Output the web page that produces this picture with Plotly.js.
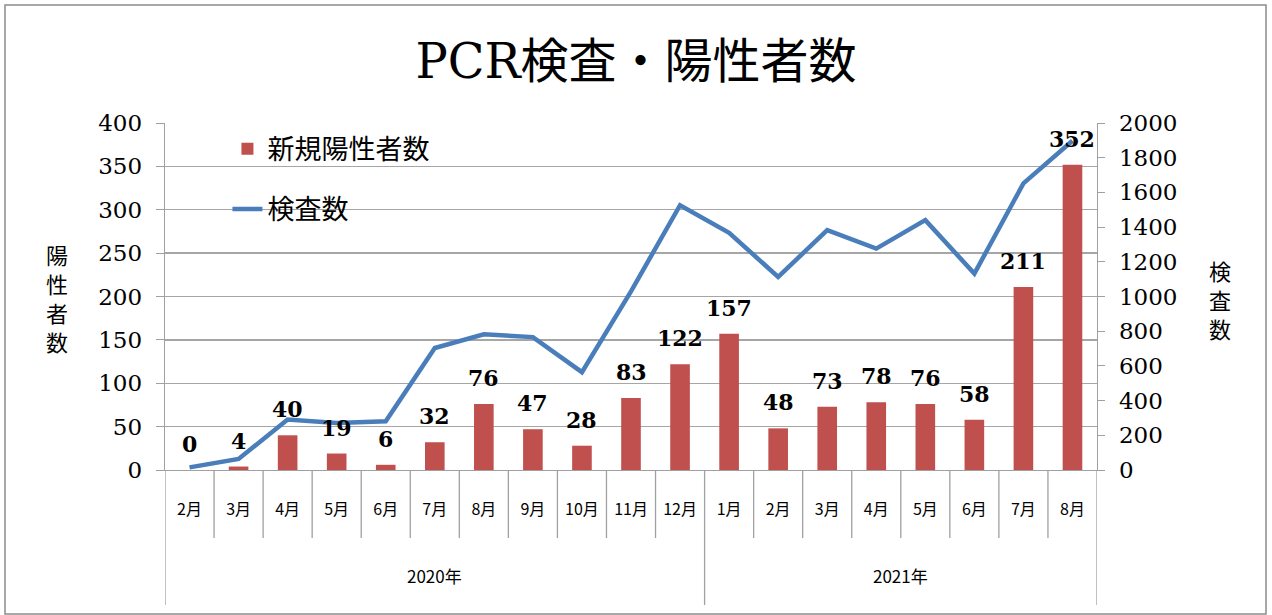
<!DOCTYPE html>
<html>
<head>
<meta charset="utf-8">
<script src="https://cdn.plot.ly/plotly-3.0.1.min.js"></script>
<style>html,body{margin:0;padding:0;background:#fff}#chart{width:1272px;height:615px}</style>
</head>
<body>
<div id="chart"></div>
<script>
const months = ["2月","3月","4月","5月","6月","7月","8月","9月","10月","11月","12月","1月","2月","3月","4月","5月","6月","7月","8月"];
const years = ["2020年","2020年","2020年","2020年","2020年","2020年","2020年","2020年","2020年","2020年","2020年","2021年","2021年","2021年","2021年","2021年","2021年","2021年","2021年"];
const positives = [0,4,40,19,6,32,76,47,28,83,122,157,48,73,78,76,58,211,352];
const tests = [15,64,291,271,281,703,782,766,564,1030,1526,1367,1113,1382,1276,1440,1132,1652,1898];
const leftTicks = [0,50,100,150,200,250,300,350,400];
const rightTicks = [0,200,400,600,800,1000,1200,1400,1600,1800,2000];
const leftTitle = "陽性者数";
const rightTitle = "検査数";

const serif = "'DejaVu Serif', 'Noto Sans CJK JP', serif";
const cjk = "'Noto Sans CJK JP', 'DejaVu Serif', sans-serif";
const idx = months.map((m,i)=>i);

const bars = {
  type:'bar', x: idx, y: positives, name:'新規陽性者数',
  marker:{color:'#C0504D'}, width:0.4,
  legendgroup:'a', hoverinfo:'skip'
};
const line = {
  type:'scatter', mode:'lines', x: idx, y: tests, yaxis:'y2', name:'検査数',
  line:{color:'#4A7EBB', width:4.5}, legendgroup:'b', hoverinfo:'skip'
};

const shapes = [];
const annotations = [];
positives.forEach((v,i)=>{
  annotations.push({xref:'x', yref:'y', x:i, y:v, text:String(v), showarrow:false, yshift:26,
    xanchor:'center', yanchor:'middle', font:{family:serif, size:22, color:'#000', weight:'bold'}});
});
const ybot = -68/347, ybotYear = -135/347;
for (let i=0;i<=months.length;i++){
  const isYearEdge = (i===0 || i===months.length || years[i]!==years[i-1]);
  shapes.push({type:'line', xref:'x', yref:'paper', x0:i-0.5, x1:i-0.5, y0:0, y1:isYearEdge?ybotYear:ybot,
    line:{color:'#A0A0A0', width:1.3}});
}
const uniqYears = [...new Set(years)];
uniqYears.forEach(yr=>{
  const ids = idx.filter(i=>years[i]===yr);
  const c = (ids[0]+ids[ids.length-1])/2;
  annotations.push({xref:'x', yref:'paper', x:c, y:-105/347, text:yr, showarrow:false,
    font:{family:cjk, size:17, color:'#000'}, xanchor:'center', yanchor:'middle'});
});
// vertical stacked axis titles, one character per annotation
[...leftTitle].forEach((ch,k)=>{
  annotations.push({xref:'paper', yref:'paper', x:-108/932, y:(470-(254+k*29))/347, text:ch, showarrow:false,
    font:{family:cjk, size:22, color:'#000'}, xanchor:'center', yanchor:'middle'});
});
[...rightTitle].forEach((ch,k)=>{
  annotations.push({xref:'paper', yref:'paper', x:(1220-165)/932, y:(470-(270+k*29))/347, text:ch, showarrow:false,
    font:{family:cjk, size:22, color:'#000'}, xanchor:'center', yanchor:'middle'});
});
shapes.push({type:'rect', xref:'paper', yref:'paper', x0:(5-165)/932, x1:(1266-165)/932, y0:(470-614)/347, y1:(470-5)/347,
  line:{color:'#8C8C8C', width:1.5}, fillcolor:'rgba(0,0,0,0)', layer:'below'});

const layout = {
  width:1272, height:615,
  margin:{l:165, r:175, t:123, b:145},
  paper_bgcolor:'#fff', plot_bgcolor:'#fff',
  title:{text:'PCR検査・陽性者数', font:{family:serif, size:48, color:'#000'}, x:0.5, xanchor:'center', y:0.9, yanchor:'middle'},
  showlegend:true,
  legend:{x:0.067, y:0.995, xanchor:'left', yanchor:'top', bgcolor:'rgba(0,0,0,0)', font:{family:cjk, size:27, color:'#000'},
    traceorder:'grouped', tracegroupgap:22},
  xaxis:{range:[-0.5, months.length-0.5], tickvals:idx, ticktext:months, showgrid:false, zeroline:false,
    ticks:'outside', ticklen:24, tickcolor:'rgba(0,0,0,0)', showline:true, linecolor:'#A0A0A0', linewidth:1.3,
    tickfont:{family:cjk, size:16, color:'#000'}},
  yaxis:{range:[0,400], tickvals:leftTicks, ticktext:leftTicks.map(String), showgrid:true, gridcolor:'#A6A6A6', gridwidth:1.3,
    zeroline:false, showline:true, linecolor:'#A0A0A0', linewidth:1.3, ticks:'outside', ticklen:8, tickcolor:'#A0A0A0',
    ticklabelstandoff:9, tickfont:{family:serif, size:23, color:'#000'}},
  yaxis2:{range:[0,2000], tickvals:rightTicks, ticktext:rightTicks.map(String), overlaying:'y', side:'right', showgrid:false,
    zeroline:false, showline:true, linecolor:'#A0A0A0', linewidth:1.3, ticks:'outside', ticklen:7, tickcolor:'#A0A0A0',
    ticklabelstandoff:9, tickfont:{family:serif, size:23, color:'#000'}},
  shapes: shapes, annotations: annotations
};
Plotly.newPlot('chart', [bars, line], layout, {staticPlot:true, displayModeBar:false});
</script>
</body>
</html>
